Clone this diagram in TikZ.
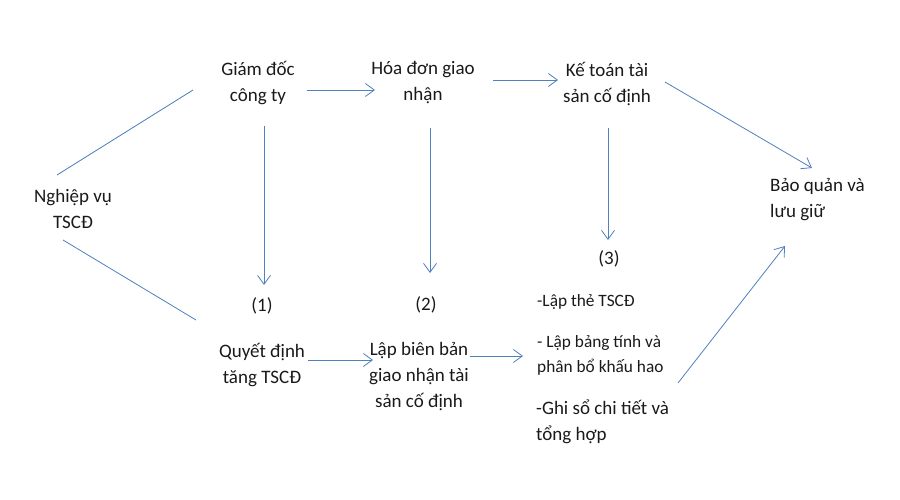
\documentclass[tikz,border=0pt]{standalone}
\usepackage{fontspec}
\setmainfont{Carlito}
\usetikzlibrary{arrows.meta}
\definecolor{lineblue}{HTML}{4F81BD}
\definecolor{txt}{HTML}{1A1A1A}
\tikzset{
  lbl/.style={inner sep=0pt, align=center, text=txt, font=\fontsize{19}{26}\selectfont},
  lbll/.style={inner sep=0pt, align=left, text=txt, font=\fontsize{19}{26}\selectfont},
  lbls/.style={inner sep=0pt, align=left, text=txt, font=\fontsize{17.3}{25}\selectfont},
  conn/.style={draw=lineblue, line width=0.8pt},
  arr/.style={conn, -{Straight Barb[length=9pt,width=13pt]}}
}
\begin{document}
\begin{tikzpicture}[x=1pt,y=-1pt]
\useasboundingbox[fill=white] (0,0) rectangle (900,500);
\node[lbl] (nv) at (73,209) {Nghiệp vụ\\TSCĐ};
\node[lbl] (gd) at (258,83) {Giám đốc\\công ty};
\node[lbl] (hd) at (423,83) {Hóa đơn giao\\nhận};
\node[lbl] (kt) at (607,84) {Kế toán tài\\sản cố định};
\node[lbll, anchor=west] (bq) at (770,200) {Bảo quản và\\lưu giữ};
\node[lbl] (p1) at (262,306) {(1)};
\node[lbl] (p2) at (426,305) {(2)};
\node[lbl] (p3) at (609,259) {(3)};
\node[lbl] (qd) at (262,365) {Quyết định\\tăng TSCĐ};
\node[lbl] (lb) at (419,377) {Lập biên bản\\giao nhận tài\\sản cố định};
\node[lbls, anchor=base west] (l1) at (537,306) {-Lập thẻ TSCĐ};
\node[lbls, anchor=base west] (l2) at (537,372) {- Lập bảng tính và\\phân bổ khấu hao};
\node[lbll, anchor=base west] (l3) at (536,440) {-Ghi sổ chi tiết và\\tổng hợp};
\draw[conn] ([shift={(-16,-34)}]nv.center) -- ([shift={(-65,7)}]gd.center);
\draw[conn] ([shift={(-10,31)}]nv.center) -- ([shift={(-66,-45)}]qd.center);
\draw[arr] ([shift={(49,7)}]gd.center) -- ([shift={(-48,7)}]hd.center);
\draw[arr] ([shift={(70,-3)}]hd.center) -- ([shift={(-49,-4)}]kt.center);
\draw[arr] ([shift={(58,-2)}]kt.center) -- ([shift={(42,-32)}]bq.west);
\draw[arr] ([shift={(6,43)}]gd.center) -- ([shift={(2,-21)}]p1.center);
\draw[arr] ([shift={(7,45)}]hd.center) -- ([shift={(4,-32)}]p2.center);
\draw[arr] ([shift={(1,44)}]kt.center) -- ([shift={(-1,-19)}]p3.center);
\draw[arr] ([shift={(46,-5)}]qd.center) -- ([shift={(-46,-17)}]lb.center);
\draw[arr] ([shift={(51,-21)}]lb.center) -- ([shift={(-14,-16)}]l2.base west);
\draw[arr] ([shift={(141,11)}]l2.base west) -- ([shift={(15,46)}]bq.west);
\end{tikzpicture}
\end{document}
